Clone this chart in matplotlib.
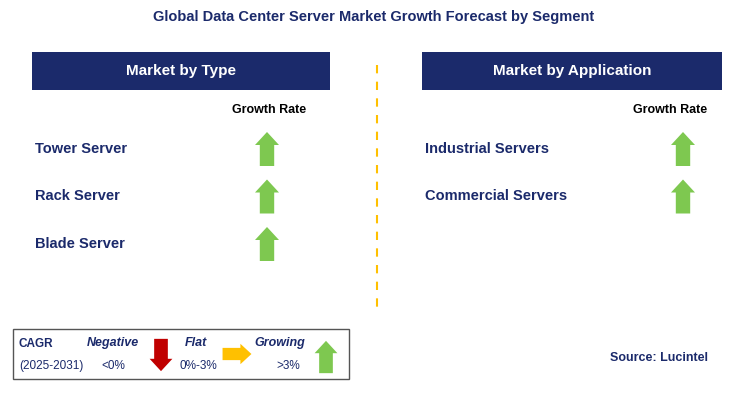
import matplotlib
matplotlib.use("Agg")
from matplotlib import pyplot as plt
from matplotlib.patches import Rectangle, Polygon

plt.rcParams["font.family"] = "Liberation Sans"

TITLE = "Global Data Center Server Market Growth Forecast by Segment"
type_items = ["Tower Server", "Rack Server", "Blade Server"]
type_trend = ["up", "up", "up"]
app_items = ["Industrial Servers", "Commercial Servers"]
app_trend = ["up", "up"]

NAVY = "#1b2a6b"
GREEN = "#7ec850"
RED = "#c00000"
ORANGE = "#ffc000"

fig = plt.figure(figsize=(7.48, 4.09), dpi=100)
ax = fig.add_axes([0, 0, 1, 1])
ax.set_xlim(0, 748)
ax.set_ylim(409, 0)
ax.axis("off")

def arrow(cx, cy, kind, color, size=1.0):
    w, h = 24 * size, 34 * size
    s = w * 0.3
    hd = 13 * size
    if kind == "up":
        pts = [(cx, cy - h/2), (cx + w/2, cy - h/2 + hd), (cx + s, cy - h/2 + hd),
               (cx + s, cy + h/2), (cx - s, cy + h/2), (cx - s, cy - h/2 + hd),
               (cx - w/2, cy - h/2 + hd)]
    elif kind == "down":
        pts = [(cx, cy + h/2), (cx + w/2, cy + h/2 - hd), (cx + s, cy + h/2 - hd),
               (cx + s, cy - h/2), (cx - s, cy - h/2), (cx - s, cy + h/2 - hd),
               (cx - w/2, cy + h/2 - hd)]
    else:
        pts = [(cx + h/2, cy), (cx + h/2 - hd, cy - w/2), (cx + h/2 - hd, cy - s),
               (cx - h/2, cy - s), (cx - h/2, cy + s), (cx + h/2 - hd, cy + s),
               (cx + h/2 - hd, cy + w/2)]
    ax.add_patch(Polygon(pts, closed=True, color=color, lw=0))

colors = {"up": GREEN, "down": RED, "flat": ORANGE}

ax.text(374, 17, TITLE, ha="center", va="center", fontsize=10.5, fontweight="bold", color=NAVY)

def panel(x0, x1, header, items, trends, arrow_x, label_x):
    ax.add_patch(Rectangle((x0, 52), x1 - x0, 38, color=NAVY, lw=0))
    ax.text((x0 + x1) / 2, 71, header, ha="center", va="center", fontsize=11,
            fontweight="bold", color="white")
    ax.text(label_x, 110, "Growth Rate", ha="center", va="center", fontsize=9,
            fontweight="bold", color="black")
    for i, (name, t) in enumerate(zip(items, trends)):
        y = 149 + i * 47.5
        ax.text(x0 + 3, y, name, ha="left", va="center", fontsize=10.5,
                fontweight="bold", color=NAVY)
        arrow(arrow_x, y, t, colors[t])

panel(32, 330, "Market by Type", type_items, type_trend, 267, 269)
panel(422, 722, "Market by Application", app_items, app_trend, 683, 670)

ax.plot([377, 377], [65, 310], color=ORANGE, lw=1.5, ls=(0, (4, 4)))

# legend box
ax.add_patch(Rectangle((13, 329), 336, 50, fill=False, ec="#555555", lw=1))
ax.text(19, 344, "CAGR", fontsize=8.5, fontweight="bold", color=NAVY, va="center")
ax.text(19, 366, "(2025-2031)", fontsize=8.5, color=NAVY, va="center")
ax.text(113, 343, "Negative", fontsize=9, fontweight="bold", style="italic", color=NAVY, ha="center", va="center")
ax.text(113, 366, "<0%", fontsize=8.5, color=NAVY, ha="center", va="center")
arrow(161, 355, "down", RED, 0.95)
ax.text(196, 343, "Flat", fontsize=9, fontweight="bold", style="italic", color=NAVY, ha="center", va="center")
ax.text(198, 366, "0%-3%", fontsize=8.5, color=NAVY, ha="center", va="center")
arrow(237, 354, "flat", ORANGE, 0.85)
ax.text(280, 343, "Growing", fontsize=9, fontweight="bold", style="italic", color=NAVY, ha="center", va="center")
ax.text(288, 366, ">3%", fontsize=8.5, color=NAVY, ha="center", va="center")
arrow(326, 357, "up", GREEN, 0.95)

ax.text(708, 358, "Source: Lucintel", ha="right", va="center", fontsize=9, fontweight="bold", color=NAVY)

fig.savefig("out.png", dpi=100)
